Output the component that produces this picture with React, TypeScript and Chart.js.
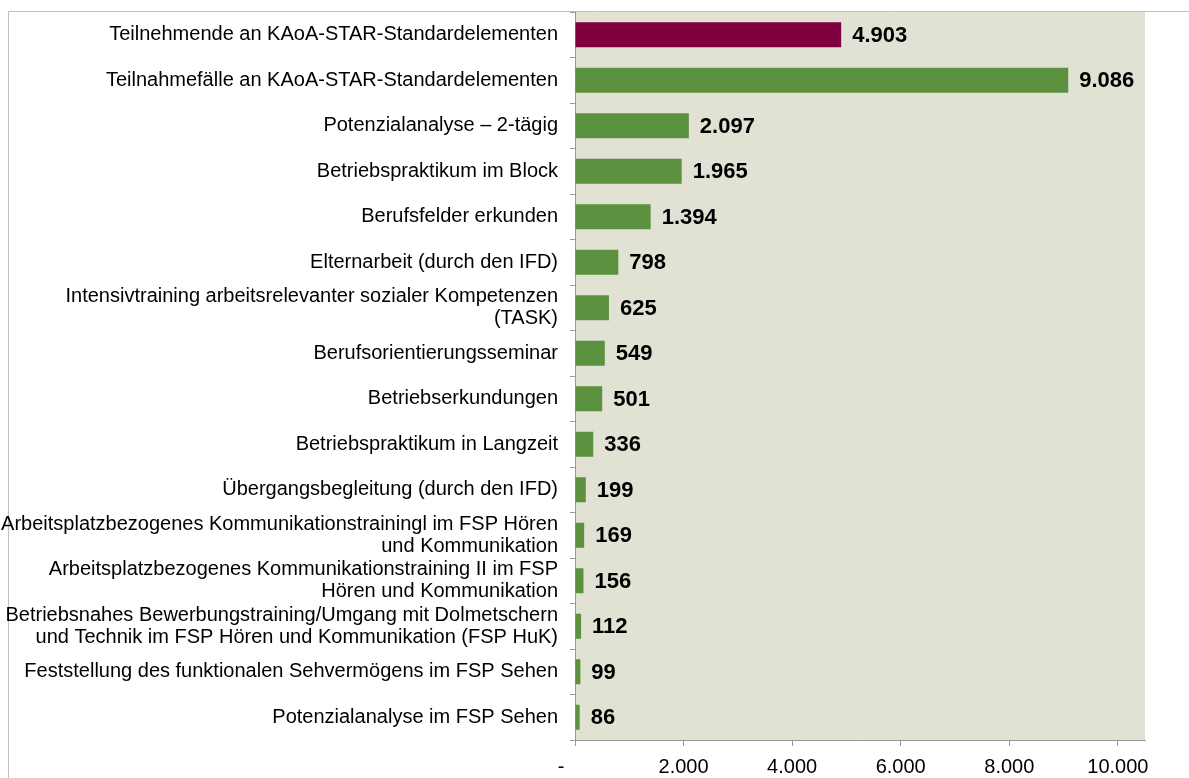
import React, { useEffect, useRef } from "react";
import { Chart, registerables } from "chart.js";

Chart.register(...registerables);

const categories: (string | string[])[] = [
  "Teilnehmende an KAoA-STAR-Standardelementen",
  "Teilnahmefälle an KAoA-STAR-Standardelementen",
  "Potenzialanalyse – 2-tägig",
  "Betriebspraktikum im Block",
  "Berufsfelder erkunden",
  "Elternarbeit (durch den IFD)",
  ["Intensivtraining arbeitsrelevanter sozialer Kompetenzen", "(TASK)"],
  "Berufsorientierungsseminar",
  "Betriebserkundungen",
  "Betriebspraktikum in Langzeit",
  "Übergangsbegleitung (durch den IFD)",
  ["Arbeitsplatzbezogenes Kommunikationstrainingl im FSP Hören", "und Kommunikation"],
  ["Arbeitsplatzbezogenes Kommunikationstraining II im FSP", "Hören und Kommunikation"],
  ["Betriebsnahes Bewerbungstraining/Umgang mit Dolmetschern", "und Technik im FSP Hören und Kommunikation (FSP HuK)"],
  "Feststellung des funktionalen Sehvermögens im FSP Sehen",
  "Potenzialanalyse im FSP Sehen",
];

const values = [4903, 9086, 2097, 1965, 1394, 798, 625, 549, 501, 336, 199, 169, 156, 112, 99, 86];

const PURPLE = "#7F003F";
const GREEN = "#5B913F";
const barColors = values.map((_, i) => (i === 0 ? PURPLE : GREEN));

const xTickValues = [0, 2000, 4000, 6000, 8000, 10000];
const xMax = 10500;

const fmt = (v: number) => String(Math.round(v)).replace(/\B(?=(\d{3})+(?!\d))/g, ".");

const FONT = "'Liberation Sans', Arial, sans-serif";

export default function App() {
  const ref = useRef<HTMLCanvasElement | null>(null);

  useEffect(() => {
    if (!ref.current) return;

    const bgPlugin = {
      id: "bgPlugin",
      beforeDraw(chart: any) {
        const { ctx, chartArea } = chart;
        ctx.save();
        ctx.fillStyle = "#FFFFFF";
        ctx.fillRect(0, 0, chart.width, chart.height);
        ctx.fillStyle = "#E1E2D4";
        ctx.fillRect(chartArea.left, chartArea.top, chartArea.right - chartArea.left, chartArea.bottom - chartArea.top);
        ctx.strokeStyle = "#BFBFBF";
        ctx.lineWidth = 1;
        ctx.beginPath();
        ctx.moveTo(8.5, chart.height + 5);
        ctx.lineTo(8.5, 11.5);
        ctx.lineTo(chart.width + 5, 11.5);
        ctx.stroke();
        ctx.restore();
      },
    };

    const labelPlugin = {
      id: "valueLabels",
      afterDatasetsDraw(chart: any) {
        const { ctx } = chart;
        const meta = chart.getDatasetMeta(0);
        ctx.save();
        ctx.font = `bold 22px ${FONT}`;
        ctx.fillStyle = "#000000";
        ctx.textAlign = "left";
        ctx.textBaseline = "middle";
        meta.data.forEach((bar: any, i: number) => {
          ctx.fillText(fmt(values[i]), bar.x + 11, bar.y + 1);
        });
        ctx.restore();
      },
    };

    const chart = new Chart(ref.current, {
      type: "bar",
      data: {
        labels: categories,
        datasets: [
          {
            data: values,
            backgroundColor: barColors,
            borderWidth: 0,
            barPercentage: 0.55,
            categoryPercentage: 1,
          },
        ],
      },
      options: {
        indexAxis: "y",
        responsive: false,
        animation: false,
        layout: { padding: { left: 0, top: 12, right: 44, bottom: 0 } },
        plugins: {
          legend: { display: false },
          tooltip: { enabled: false },
          title: { display: false },
        },
        scales: {
          x: {
            type: "linear",
            min: 0,
            max: xMax,
            afterBuildTicks(scale: any) {
              scale.ticks = xTickValues.map((v) => ({ value: v }));
            },
            afterFit(scale: any) {
              scale.height = 38;
              scale.paddingLeft = 0;
              scale.paddingRight = 0;
            },
            grid: {
              drawOnChartArea: false,
              drawTicks: true,
              tickLength: 6,
              color: "#999999",
            },
            border: { display: true, color: "#999999" },
            ticks: {
              autoSkip: false,
              maxRotation: 0,
              padding: 9,
              color: "#000000",
              font: { family: FONT, size: 20 },
              callback: (v: any) =>
                Number(v) === 0 ? "-" + "\u00a0".repeat(5) : fmt(Number(v)),
            },
          },
          y: {
            type: "category",
            afterFit(scale: any) {
              scale.width = 575;
              scale.paddingTop = 0;
              scale.paddingBottom = 0;
            },
            grid: {
              drawOnChartArea: false,
              drawTicks: true,
              tickLength: 5,
              offset: true,
              color: "#999999",
            },
            border: { display: true, color: "#999999" },
            ticks: {
              autoSkip: false,
              padding: 12,
              color: "#000000",
              font: { family: FONT, size: 20, lineHeight: 1.08 },
            },
          },
        },
      },
      plugins: [bgPlugin, labelPlugin],
    });

    return () => chart.destroy();
  }, []);

  return (
    <div style={{ position: "absolute", left: 0, top: 0, width: 1189, height: 778 }}>
      <canvas ref={ref} width={1189} height={778} style={{ display: "block" }} />
    </div>
  );
}
